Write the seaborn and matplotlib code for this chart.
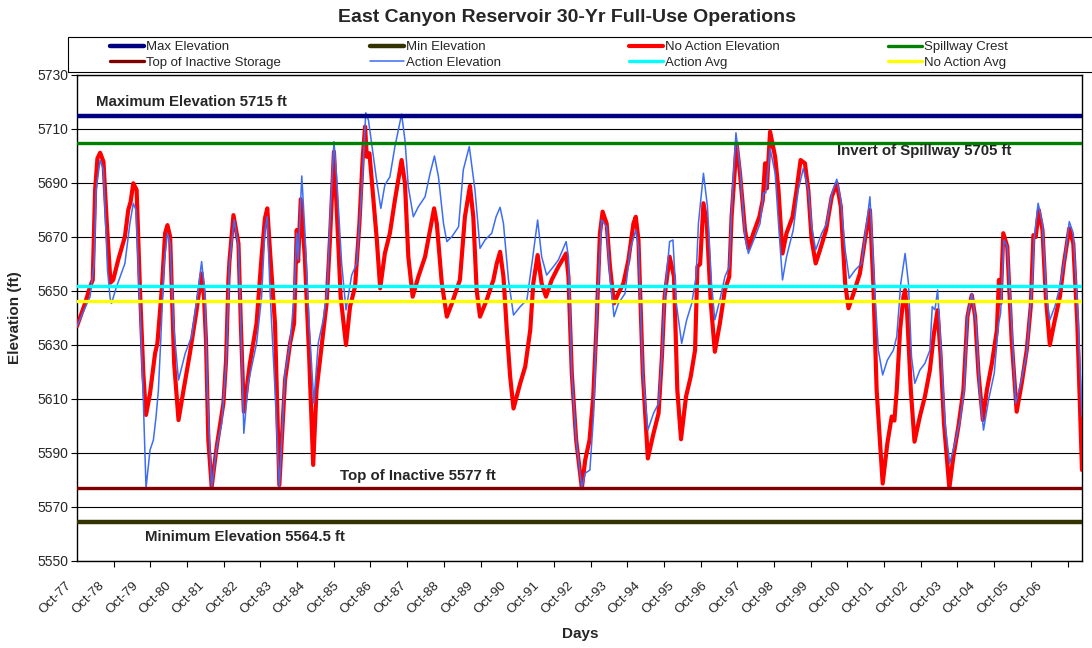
import numpy as np
import pandas as pd
import matplotlib
matplotlib.use("Agg")
import matplotlib.pyplot as plt
import matplotlib.transforms as mtransforms
from matplotlib.patches import Rectangle
import seaborn as sns

# reference elevations (ft)
max_elev = 5715.0
spillway_crest = 5705.0
top_inactive = 5577.0
min_elev = 5564.5
action_avg = 5652.0
no_action_avg = 5646.4

# No Action elevation: (years since Oct-77, ft)
no_action_t = [0.00, 0.24, 0.39, 0.47, 0.54, 0.61, 0.69, 0.79, 0.89, 1.00, 1.08, 1.23, 1.43, 1.53, 1.60,
               1.68, 1.78, 1.88, 1.98, 2.06, 2.18, 2.33, 2.40, 2.53, 2.63, 2.70, 2.78, 2.90, 3.03, 3.18,
               3.37, 3.57, 3.72, 3.79, 3.85, 3.92, 4.02, 4.17, 4.37, 4.45, 4.52, 4.55, 4.67, 4.82, 4.89,
               4.98, 5.16, 5.36, 5.51, 5.61, 5.68, 5.76, 5.91, 6.04, 6.21, 6.36, 6.48, 6.56, 6.60, 6.68,
               6.80, 6.93, 7.05, 7.15, 7.30, 7.45, 7.55, 7.67, 7.75, 7.87, 8.03, 8.15, 8.30, 8.43, 8.53,
               8.60, 8.65, 8.73, 8.85, 8.95, 9.05, 9.19, 9.34, 9.49, 9.69, 9.79, 9.89, 10.02, 10.19, 10.39,
               10.54, 10.66, 10.74, 10.89, 11.04, 11.19, 11.43, 11.58, 11.73, 11.83, 11.93, 12.03, 12.23,
               12.43, 12.53, 12.63, 12.73, 12.83, 12.93, 13.03, 13.23, 13.38, 13.53, 13.62, 13.75, 13.87,
               14.00, 14.17, 14.37, 14.60, 14.67, 14.77, 14.90, 15.07, 15.17, 15.30, 15.41, 15.51, 15.61,
               15.69, 15.81, 15.91, 16.03, 16.16, 16.31, 16.46, 16.61, 16.68, 16.76, 16.89, 17.04, 17.21,
               17.36, 17.46, 17.54, 17.69, 17.82, 17.92, 18.03, 18.18, 18.32, 18.45, 18.52, 18.60, 18.70,
               18.80, 18.92, 19.04, 19.19, 19.34, 19.47, 19.54, 19.69, 19.79, 19.94, 20.04, 20.19, 20.37,
               20.47, 20.54, 20.59, 20.69, 20.84, 20.94, 21.06, 21.18, 21.36, 21.48, 21.60, 21.73, 21.83,
               21.93, 22.05, 22.18, 22.36, 22.53, 22.68, 22.80, 22.93, 23.03, 23.18, 23.37, 23.52, 23.67,
               23.77, 23.87, 24.05, 24.19, 24.32, 24.40, 24.47, 24.57, 24.67, 24.72, 24.78, 24.89, 25.00,
               25.16, 25.31, 25.46, 25.58, 25.69, 25.78, 25.88, 26.04, 26.16, 26.31, 26.46, 26.58, 26.71,
               26.81, 26.91, 27.04, 27.16, 27.31, 27.46, 27.52, 27.57, 27.65, 27.77, 27.90, 28.05, 28.20,
               28.35, 28.47, 28.55, 28.62, 28.71, 28.82, 28.92, 29.04, 29.19, 29.34, 29.46, 29.62, 29.74,
               29.86, 30.00]
no_action_elev = [5637.0, 5645.4, 5651.6, 5654.1, 5687.4, 5699.1, 5701.2, 5697.9, 5675.1, 5653.1, 5654.1,
                  5661.5, 5670.1, 5680.0, 5683.0, 5689.9, 5687.4, 5650.4, 5619.5, 5604.1, 5612.1, 5626.9,
                  5630.6, 5650.4, 5671.4, 5674.4, 5670.1, 5623.2, 5602.2, 5613.3, 5626.9, 5642.9, 5656.5,
                  5647.9, 5631.8, 5594.8, 5577.5, 5592.3, 5608.4, 5624.4, 5654.1, 5660.9, 5678.1, 5667.6,
                  5638.0, 5605.3, 5623.2, 5638.0, 5662.7, 5676.9, 5680.6, 5665.0, 5638.0, 5578.1, 5617.0,
                  5630.6, 5638.0, 5672.6, 5661.0, 5684.0, 5662.7, 5625.7, 5585.6, 5613.3, 5629.4, 5645.4,
                  5668.9, 5701.6, 5681.2, 5647.9, 5630.0, 5644.2, 5651.6, 5675.0, 5699.7, 5710.9, 5699.7,
                  5701.0, 5683.7, 5668.9, 5651.0, 5663.9, 5671.4, 5683.7, 5698.5, 5689.9, 5662.7, 5647.9,
                  5655.3, 5662.7, 5672.6, 5680.6, 5675.0, 5652.8, 5640.5, 5645.4, 5654.1, 5677.5, 5688.9,
                  5677.5, 5650.4, 5640.5, 5646.7, 5654.1, 5660.2, 5664.5, 5655.3, 5635.6, 5618.3, 5606.5,
                  5615.8, 5622.0, 5635.6, 5652.8, 5663.3, 5652.8, 5647.9, 5654.1, 5659.0, 5663.9, 5655.3,
                  5619.5, 5594.8, 5577.0, 5587.4, 5594.8, 5610.9, 5638.0, 5671.4, 5679.4, 5675.0, 5659.0,
                  5645.4, 5649.1, 5652.8, 5661.5, 5675.0, 5677.5, 5668.9, 5619.5, 5588.0, 5597.3, 5604.7,
                  5625.7, 5647.9, 5662.7, 5655.3, 5613.3, 5595.1, 5610.9, 5618.3, 5628.1, 5659.0, 5660.0,
                  5682.5, 5675.0, 5645.4, 5627.5, 5638.0, 5650.4, 5655.3, 5677.5, 5704.7, 5693.6, 5672.6,
                  5665.8, 5671.4, 5677.5, 5683.7, 5697.3, 5688.0, 5709.0, 5699.7, 5687.4, 5663.9, 5671.4,
                  5677.5, 5687.4, 5698.5, 5697.3, 5687.4, 5668.9, 5660.2, 5665.2, 5672.6, 5684.9, 5689.9,
                  5681.2, 5652.8, 5643.6, 5649.1, 5656.5, 5668.9, 5680.0, 5652.8, 5613.3, 5578.7, 5593.6,
                  5603.5, 5602.0, 5613.3, 5635.6, 5647.9, 5650.4, 5642.0, 5613.3, 5594.2, 5603.5, 5610.9,
                  5620.7, 5634.3, 5642.9, 5625.7, 5601.0, 5577.0, 5588.6, 5599.8, 5613.3, 5640.5, 5648.5,
                  5640.5, 5619.5, 5602.2, 5613.3, 5623.2, 5635.6, 5654.1, 5645.5, 5671.4, 5666.4, 5631.8,
                  5605.3, 5615.8, 5628.1, 5644.2, 5670.7, 5670.0, 5680.0, 5672.6, 5647.9, 5630.0, 5639.3,
                  5647.9, 5660.2, 5673.2, 5667.6, 5638.0, 5583.7]

# Action elevation: (years since Oct-77, ft)
action_t = [0.00, 0.39, 0.51, 0.57, 0.69, 0.79, 0.91, 0.99, 1.03, 1.18, 1.43, 1.58, 1.68, 1.76, 1.88, 1.97,
            2.06, 2.18, 2.28, 2.36, 2.43, 2.50, 2.60, 2.70, 2.78, 2.88, 3.03, 3.23, 3.42, 3.59, 3.72, 3.82,
            3.89, 4.02, 4.17, 4.32, 4.45, 4.55, 4.69, 4.82, 4.92, 4.98, 5.11, 5.36, 5.51, 5.61, 5.68, 5.76,
            5.91, 6.04, 6.21, 6.36, 6.48, 6.56, 6.60, 6.71, 6.80, 6.93, 7.07, 7.20, 7.35, 7.47, 7.57, 7.67,
            7.75, 7.90, 8.03, 8.20, 8.35, 8.50, 8.62, 8.70, 8.85, 8.97, 9.07, 9.19, 9.34, 9.49, 9.69, 9.79,
            9.89, 10.04, 10.19, 10.39, 10.54, 10.67, 10.79, 10.94, 11.04, 11.19, 11.39, 11.53, 11.71, 11.88,
            12.03, 12.18, 12.38, 12.51, 12.63, 12.73, 12.88, 13.03, 13.23, 13.43, 13.58, 13.75, 13.87, 14.02,
            14.22, 14.37, 14.60, 14.67, 14.77, 14.90, 15.07, 15.17, 15.31, 15.42, 15.52, 15.66, 15.81, 15.91,
            16.03, 16.16, 16.36, 16.51, 16.68, 16.76, 16.89, 17.04, 17.21, 17.36, 17.46, 17.54, 17.69, 17.79,
            17.89, 18.05, 18.20, 18.35, 18.48, 18.55, 18.70, 18.82, 18.94, 19.04, 19.19, 19.34, 19.47, 19.57,
            19.67, 19.79, 19.94, 20.04, 20.24, 20.39, 20.49, 20.56, 20.69, 20.84, 20.94, 21.06, 21.18, 21.38,
            21.53, 21.68, 21.83, 21.93, 22.05, 22.23, 22.38, 22.53, 22.68, 22.80, 22.93, 23.05, 23.23, 23.42,
            23.57, 23.67, 23.79, 23.92, 24.05, 24.19, 24.37, 24.47, 24.59, 24.72, 24.82, 24.91, 25.01, 25.16,
            25.31, 25.46, 25.53, 25.61, 25.69, 25.78, 25.91, 26.05, 26.21, 26.36, 26.48, 26.58, 26.71, 26.84,
            26.94, 27.06, 27.21, 27.38, 27.51, 27.57, 27.67, 27.77, 27.90, 28.02, 28.17, 28.35, 28.50, 28.57,
            28.69, 28.82, 28.94, 29.04, 29.19, 29.34, 29.49, 29.62, 29.74, 29.89, 30.00]
action_elev = [5637.0, 5647.9, 5660.2, 5687.4, 5698.5, 5694.8, 5657.8, 5647.3, 5645.4, 5651.6, 5660.2, 5675.1,
               5682.5, 5680.0, 5644.2, 5613.3, 5577.0, 5591.1, 5594.8, 5603.5, 5613.3, 5631.8, 5660.2, 5671.4,
               5667.6, 5638.0, 5617.0, 5626.9, 5633.1, 5647.9, 5660.9, 5649.1, 5613.3, 5577.0, 5592.3, 5601.0,
               5623.0, 5660.0, 5676.3, 5666.4, 5625.7, 5597.3, 5615.8, 5630.6, 5647.9, 5672.6, 5677.5, 5650.4,
               5613.3, 5577.0, 5619.5, 5630.6, 5647.9, 5671.4, 5661.5, 5692.6, 5672.6, 5638.0, 5608.4, 5630.6,
               5639.3, 5650.4, 5681.2, 5705.3, 5692.3, 5660.2, 5643.0, 5655.9, 5660.2, 5687.4, 5716.0, 5713.3,
               5699.7, 5688.6, 5680.6, 5689.3, 5692.3, 5703.5, 5715.5, 5705.9, 5688.6, 5677.5, 5681.2, 5684.9,
               5693.6, 5700.0, 5692.3, 5675.0, 5668.3, 5670.1, 5673.8, 5694.8, 5703.5, 5687.4, 5665.8, 5668.9,
               5671.4, 5677.5, 5681.0, 5675.0, 5654.1, 5641.1, 5644.2, 5646.7, 5660.2, 5676.3, 5662.7, 5655.9,
               5659.0, 5661.5, 5668.3, 5662.7, 5619.5, 5594.8, 5577.0, 5582.5, 5583.7, 5604.0, 5643.0, 5676.3,
               5673.8, 5655.0, 5640.5, 5645.4, 5649.1, 5665.2, 5672.6, 5666.4, 5619.5, 5598.5, 5604.7, 5608.4,
               5625.7, 5647.9, 5668.3, 5668.9, 5645.4, 5630.6, 5639.3, 5645.4, 5655.3, 5675.0, 5693.6, 5681.2,
               5652.8, 5639.3, 5646.7, 5655.3, 5659.0, 5687.4, 5708.6, 5696.0, 5670.1, 5663.9, 5670.1, 5675.0,
               5686.3, 5686.3, 5702.8, 5693.6, 5675.0, 5654.1, 5662.7, 5672.6, 5687.4, 5695.4, 5687.4, 5674.0,
               5665.2, 5671.4, 5675.0, 5686.0, 5691.4, 5683.7, 5665.2, 5654.7, 5657.8, 5660.2, 5675.0, 5684.9,
               5655.3, 5628.1, 5618.9, 5624.4, 5628.1, 5633.1, 5652.8, 5663.9, 5652.8, 5625.7, 5615.8, 5620.7,
               5623.2, 5628.1, 5644.2, 5643.0, 5650.4, 5630.6, 5601.0, 5586.2, 5593.6, 5602.2, 5613.3, 5640.5,
               5649.1, 5638.0, 5613.3, 5598.5, 5609.6, 5619.5, 5638.0, 5641.7, 5668.9, 5666.4, 5638.0, 5608.4,
               5615.8, 5626.9, 5650.4, 5668.9, 5682.5, 5675.0, 5647.9, 5639.3, 5644.2, 5651.6, 5662.7, 5675.7,
               5671.4, 5638.0, 5603.5]

year_labels = ["Oct-%02d" % (y % 100) for y in range(1977, 2007)]
days_per_year = 365.25

na = pd.DataFrame({"Days": np.array(no_action_t) * days_per_year, "Elevation": no_action_elev})
ac = pd.DataFrame({"Days": np.array(action_t) * days_per_year, "Elevation": action_elev})

sns.set_style("white")
plt.rcParams["font.family"] = ["Liberation Sans", "DejaVu Sans"]

fig = plt.figure(figsize=(10.92, 6.48), dpi=100)
ax = fig.add_axes([77 / 1092, 1 - 561 / 648, 1005 / 1092, 486 / 648])

sns.lineplot(data=na, x="Days", y="Elevation", ax=ax, color="#ff0000", lw=3.0,
             estimator=None, sort=False, zorder=3, label="No Action Elevation")
sns.lineplot(data=ac, x="Days", y="Elevation", ax=ax, color="#3d6cf5", lw=1.1,
             estimator=None, sort=False, zorder=4, label="Action Elevation")

h_max = ax.axhline(max_elev, color="#000080", lw=3.2, zorder=5, label="Max Elevation")
h_min = ax.axhline(min_elev, color="#333300", lw=3.2, zorder=5, label="Min Elevation")
h_sp = ax.axhline(spillway_crest, color="#008000", lw=2.4, zorder=5, label="Spillway Crest")
h_in = ax.axhline(top_inactive, color="#800000", lw=2.4, zorder=5, label="Top of Inactive Storage")
h_aa = ax.axhline(action_avg, color="#00ffff", lw=2.4, zorder=5, label="Action Avg")
h_na = ax.axhline(no_action_avg, color="#ffff00", lw=2.4, zorder=5, label="No Action Avg")

ax.set_xlim(0, 30 * days_per_year)
ax.set_ylim(5550, 5730)
ax.set_yticks(np.arange(5550, 5731, 20))
ax.yaxis.grid(True, color="black", lw=0.8)
ax.xaxis.grid(False)
for s in ax.spines.values():
    s.set_color("black")
    s.set_linewidth(1.0)

ax.set_xticks(np.arange(30) * days_per_year)
ax.set_xticklabels(year_labels)
ax.set_xticks(np.arange(0, 30 * days_per_year, 400), minor=True)
ax.tick_params(axis="x", which="major", length=0, pad=16)
ax.tick_params(axis="x", which="minor", length=4, width=0.8, color="black", direction="out", bottom=True)
ax.tick_params(axis="y", length=4, width=0.8, color="black", direction="out", left=True, pad=2)
for lab in ax.get_xticklabels():
    lab.set_rotation(45)
    lab.set_ha("right")
    lab.set_va("center")
    lab.set_rotation_mode("anchor")
    lab.set_fontsize(9.5)
    lab.set_transform(lab.get_transform() + mtransforms.ScaledTranslation(-8 / 100, 0, fig.dpi_scale_trans))
for lab in ax.get_yticklabels():
    lab.set_fontsize(10)

ax.set_xlabel("")
ax.set_ylabel("")
fig.text(580 / 1092, 1 - 634 / 648, "Days", ha="center", va="center", fontsize=11, fontweight="bold")
fig.text(15 / 1092, 1 - 318 / 648, "Elevation (ft)", ha="center", va="center", rotation=90,
         fontsize=11, fontweight="bold")
fig.text(567 / 1092, 1 - 17 / 648, "East Canyon Reservoir 30-Yr Full-Use Operations",
         ha="center", va="center", fontsize=14, fontweight="bold")

ann = dict(fontsize=10.8, fontweight="bold", va="center", ha="left", zorder=6)
ax.text(0.57 * days_per_year, 5720, "Maximum Elevation 5715 ft", **ann)
ax.text(22.69 * days_per_year, 5701.9, "Invert of Spillway 5705 ft", **ann)
ax.text(7.85 * days_per_year, 5581.5, "Top of Inactive 5577 ft", **ann)
ax.text(2.03 * days_per_year, 5558.9, "Minimum Elevation 5564.5 ft", **ann)

ax.get_legend().remove()
lines = ax.get_lines()
red_line, blue_line = lines[0], lines[1]

# legend: frame box plus four two-row columns
fig.patches.append(Rectangle((68 / 1092, 1 - 72 / 648), 1040 / 1092, 35 / 648,
                             transform=fig.transFigure, fill=False, edgecolor="black", lw=0.8))
columns = [([h_max, h_in], 110), ([h_min, blue_line], 370), ([red_line, h_aa], 629), ([h_sp, h_na], 888)]
for col_handles, xpix in columns:
    fig.legend(col_handles, [h.get_label() for h in col_handles], loc="center left",
               bbox_to_anchor=(xpix / 1092, 1 - 55 / 648), frameon=False, borderpad=0,
               borderaxespad=0, labelspacing=0.25, handlelength=2.6, handletextpad=0.1,
               prop={"size": 9.5})

fig.savefig("out.png", dpi=100)
